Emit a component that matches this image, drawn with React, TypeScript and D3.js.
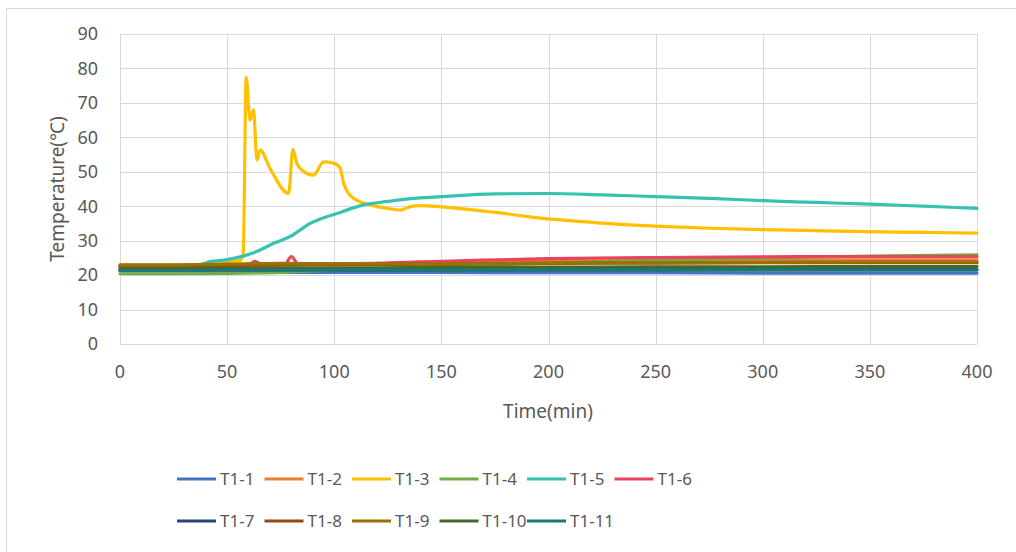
import React, { useEffect, useRef } from 'react'
import * as d3 from 'd3'

// shared sample times for the slowly drifting thermocouples
const baseTimes = [0, 25, 50, 75, 100, 150, 200, 250, 300, 350, 400]

const t1_1 = [21.2, 21.2, 21.0, 20.8, 20.8, 20.8, 20.7, 20.7, 20.6, 20.6, 20.6]
const t1_2 = [22.8, 22.8, 22.8, 23.0, 23.2, 23.6, 24.0, 24.2, 24.3, 24.4, 24.4]
const t1_4 = [20.4, 20.4, 20.5, 20.8, 21.5, 22.5, 23.5, 24.3, 25.0, 25.5, 25.9]
const t1_7 = [21.6, 21.6, 21.6, 21.5, 21.5, 21.5, 21.6, 21.6, 21.6, 21.6, 21.6]
const t1_8 = [22.6, 22.6, 22.8, 23.0, 23.0, 23.2, 23.4, 23.5, 23.6, 23.6, 23.6]
const t1_9 = [23.0, 23.0, 23.2, 23.4, 23.3, 23.3, 23.5, 23.6, 23.7, 23.8, 23.8]
const t1_10 = [21.8, 21.8, 21.9, 22.0, 22.0, 22.2, 22.3, 22.4, 22.4, 22.5, 22.5]
const t1_11 = [21.4, 21.4, 21.5, 21.5, 21.5, 21.5, 21.5, 21.5, 21.5, 21.5, 21.5]

// series with their own time stamps: [time, temperature]
const t1_3: [number, number][] = [
  [0, 22.8], [20, 22.8], [40, 23.2], [45, 23.8], [56, 24.2], [57.5, 26], [58.9, 77.4],
  [60.7, 65], [62.3, 68], [63.9, 53.4], [65.4, 56.3], [70, 51], [78.7, 43.7], [80.7, 56.5],
  [82.5, 52.5], [84.9, 50.5], [90.3, 49], [95, 52.9], [99.7, 52.5], [102.8, 51], [104.4, 46.7],
  [109, 42.3], [116.8, 40.4], [124.6, 39.4], [130.8, 38.9], [135.5, 39.9], [140, 40.2],
  [150, 39.8], [175, 38.2], [200, 36.3], [225, 35.1], [250, 34.2], [275, 33.6], [300, 33.2],
  [325, 32.9], [350, 32.6], [375, 32.4], [400, 32.2]
]
const t1_5: [number, number][] = [
  [0, 22], [20, 22], [35, 22.6], [42, 23.9], [50, 24.5], [56, 25.3], [60, 26], [65.4, 27.3],
  [72, 29.3], [79.4, 31.2], [88.8, 35], [101.3, 37.9], [113.7, 40.4], [125, 41.4], [135.5, 42.2],
  [150, 42.8], [175, 43.6], [200, 43.7], [225, 43.3], [250, 42.8], [275, 42.3], [300, 41.6],
  [325, 41.1], [350, 40.6], [375, 40.0], [400, 39.4]
]
const t1_6: [number, number][] = [
  [0, 22.6], [25, 22.6], [50, 22.8], [60, 23.0], [63, 24.0], [66, 23.1], [77, 23.2], [80, 25.4],
  [83, 23.3], [100, 23.3], [150, 24.0], [200, 24.8], [250, 25.1], [300, 25.3], [350, 25.4], [400, 25.4]
]

const seriesNames = ['T1-1', 'T1-2', 'T1-3', 'T1-4', 'T1-5', 'T1-6', 'T1-7', 'T1-8', 'T1-9', 'T1-10', 'T1-11']
const seriesColors = ['#4472C4', '#ED7D31', '#FFC000', '#70AD47', '#36C2B0', '#E8455C',
  '#264478', '#9E480E', '#997300', '#43682B', '#1C7A72']

const xTicks = [0, 50, 100, 150, 200, 250, 300, 350, 400]
const yTicks = [0, 10, 20, 30, 40, 50, 60, 70, 80, 90]

const zipBase = (vals: number[]) => baseTimes.map((t, i) => [t, vals[i]] as [number, number])

const seriesData: [number, number][][] = [
  zipBase(t1_1), zipBase(t1_2), t1_3, zipBase(t1_4), t1_5, t1_6,
  zipBase(t1_7), zipBase(t1_8), zipBase(t1_9), zipBase(t1_10), zipBase(t1_11)
]

const W = 1016
const H = 552
const plot = { left: 120, right: 977, top: 34, bottom: 344 }
const font = '"Noto Sans", sans-serif'
const textColor = '#595959'

export default function App() {
  const svgRef = useRef<SVGSVGElement>(null)

  useEffect(() => {
    if (!svgRef.current) return
    const svg = d3.select(svgRef.current)
    svg.selectAll('*').remove()

    const x = d3.scaleLinear().domain([0, 400]).range([plot.left, plot.right])
    const y = d3.scaleLinear().domain([0, 90]).range([plot.bottom, plot.top])

    // outer chart frame
    svg.append('rect')
      .attr('x', 6.5).attr('y', 8.5)
      .attr('width', W + 20).attr('height', H + 20)
      .attr('fill', '#fff').attr('stroke', '#d9d9d9')

    // grid
    const grid = svg.append('g').attr('stroke', '#d9d9d9').attr('stroke-width', 1)
    yTicks.forEach(v => {
      grid.append('line')
        .attr('x1', plot.left).attr('x2', plot.right)
        .attr('y1', Math.round(y(v)) + 0.5).attr('y2', Math.round(y(v)) + 0.5)
    })
    xTicks.forEach(v => {
      grid.append('line')
        .attr('y1', plot.top).attr('y2', plot.bottom)
        .attr('x1', Math.round(x(v)) + 0.5).attr('x2', Math.round(x(v)) + 0.5)
    })

    // tick labels
    svg.append('g').selectAll('text').data(yTicks).join('text')
      .attr('x', 98).attr('y', d => y(d))
      .attr('dy', '0.35em').attr('text-anchor', 'end')
      .attr('font-family', font).attr('font-size', 18).attr('fill', textColor)
      .text(d => d)

    svg.append('g').selectAll('text').data(xTicks).join('text')
      .attr('x', d => x(d)).attr('y', 372)
      .attr('dy', '0.35em').attr('text-anchor', 'middle')
      .attr('font-family', font).attr('font-size', 18).attr('fill', textColor)
      .text(d => d)

    // axis titles
    svg.append('text')
      .attr('x', 548).attr('y', 411).attr('dy', '0.35em')
      .attr('text-anchor', 'middle')
      .attr('font-family', font).attr('font-size', 19).attr('fill', textColor)
      .text('Time(min)')

    svg.append('text')
      .attr('transform', 'translate(57,189) rotate(-90)')
      .attr('dy', '0.35em').attr('text-anchor', 'middle')
      .attr('font-family', font).attr('font-size', 19).attr('fill', textColor)
      .text('Temperature(℃)')

    // series
    const line = d3.line<[number, number]>()
      .x(d => x(d[0])).y(d => y(d[1]))
      .curve(d3.curveMonotoneX)
    const lines = svg.append('g')
    seriesData.forEach((data, i) => {
      lines.append('path')
        .datum(data)
        .attr('d', line)
        .attr('fill', 'none')
        .attr('stroke', seriesColors[i])
        .attr('stroke-width', 3.2)
        .attr('stroke-linejoin', 'round')
        .attr('stroke-linecap', 'round')
    })

    // legend
    const legend = svg.append('g')
    seriesNames.forEach((name, i) => {
      const row = i < 6 ? 0 : 1
      const col = i < 6 ? i : i - 6
      const lx = 177 + col * 87.5
      const ly = row === 0 ? 479 : 521
      legend.append('line')
        .attr('x1', lx).attr('x2', lx + 39)
        .attr('y1', ly).attr('y2', ly)
        .attr('stroke', seriesColors[i]).attr('stroke-width', 3)
      legend.append('text')
        .attr('x', lx + 43).attr('y', ly).attr('dy', '0.35em')
        .attr('font-family', font).attr('font-size', 17).attr('fill', textColor)
        .text(name)
    })
  }, [])

  return (
    <svg
      ref={svgRef}
      width={W}
      height={H}
      style={{ position: 'absolute', left: 0, top: 0, background: '#fff' }}
    />
  )
}
